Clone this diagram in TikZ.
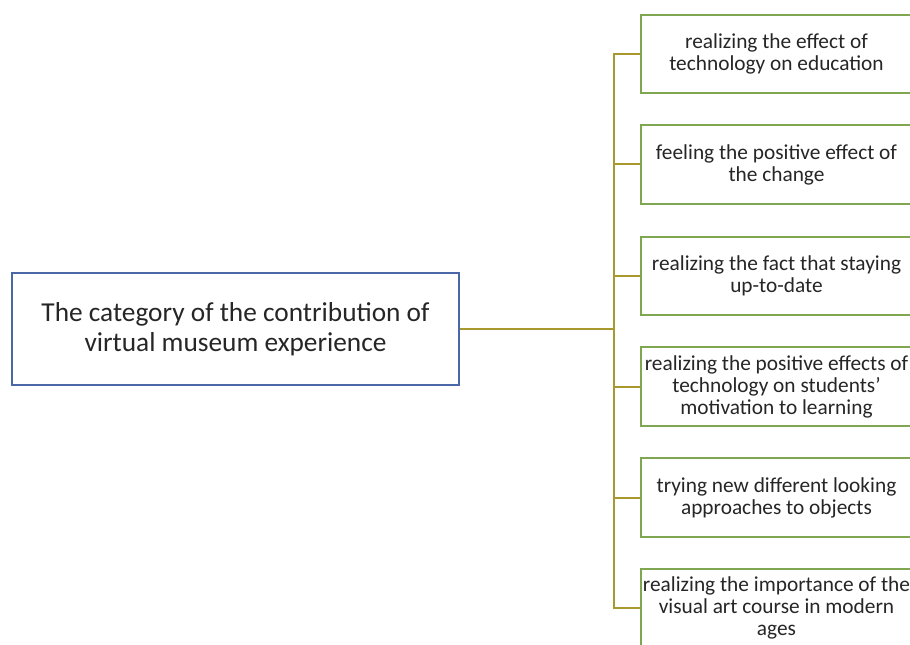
\documentclass[tikz,border=0pt]{standalone}
\usepackage{fontspec}
\setmainfont{Carlito}
\usetikzlibrary{positioning}
\definecolor{catblue}{HTML}{4A67A8}
\definecolor{itemgreen}{HTML}{7FA650}
\definecolor{linkolive}{HTML}{A8982E}
\definecolor{textgray}{HTML}{262626}

\begin{document}
\begin{tikzpicture}[
    x=0.75pt, y=0.75pt,
    category/.style={
        draw=catblue, line width=1.1pt, fill=white,
        minimum width=335pt, minimum height=84pt,
        align=center, font=\fontsize{20.5}{22.5}\selectfont, text=textgray
    },
    item/.style={
        draw=itemgreen, line width=1.3pt, fill=white,
        minimum width=203pt, minimum height=59pt, inner xsep=1pt,
        align=center, font=\fontsize{16}{16.5}\selectfont, text=textgray
    },
    link/.style={
        draw=linkolive, line width=1.5pt
    }
]
\useasboundingbox (0,0) rectangle (910,644);

\node[category] (cat) at (235.5,315)
    {The category of the contribution of\\virtual museum experience};

\node[item] (i1) at (776.5,590)
    {realizing the effect of\\technology on education};
\node[item] (i2) at (776.5,479.5)
    {feeling the positive effect of\\the change};
\node[item] (i3) at (776.5,368)
    {realizing the fact that staying\\up-to-date};
\node[item] (i4) at (776.5,257.5)
    {realizing the positive effects of\\technology on students'\\motivation to learning};
\node[item] (i5) at (776.5,146.5)
    {trying new different looking\\approaches to objects};
\node[item] (i6) at (776.5,36)
    {realizing the importance of the\\visual art course in modern\\ages};

\coordinate (hub) at (614,315);
\draw[link] (cat.east) -- (hub);
\foreach \i in {1,...,6}
    \draw[link] (hub) |- (i\i.west);
\end{tikzpicture}
\end{document}
